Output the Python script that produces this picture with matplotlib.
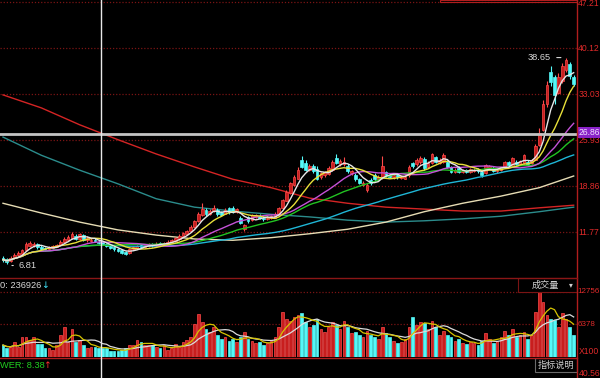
import numpy as np
import pandas as pd
import matplotlib
matplotlib.use("Agg")
import matplotlib.pyplot as plt
from matplotlib.lines import Line2D
from matplotlib.patches import Rectangle

# ---------------- data ----------------
opens = [7.8, 7.6, 7.3, 7.8, 8.2, 8.4, 9.0, 9.6, 9.7, 9.9,
         9.5, 9.3, 9.1, 9.3, 9.5, 9.8, 10.2, 10.6, 10.8, 11.2,
         10.7, 11.3, 10.5, 10.4, 10.6, 10.3, 10.2, 10.0, 9.6, 9.4,
         9.1, 9.0, 8.7, 8.5, 9.1, 9.3, 9.7, 9.4, 9.6, 9.9,
         9.7, 10.1, 9.9, 10.0, 10.2, 10.4, 10.7, 11.1, 11.4, 11.9,
         12.5, 13.4, 14.4, 15.1, 14.6, 15.0, 15.2, 14.8, 14.6, 15.4,
         15.5, 14.9, 13.9, 12.3, 14.1, 13.6, 14.1, 14.3, 14.0, 13.7,
         13.9, 14.0, 14.5, 15.4, 16.6, 17.8, 19.0, 20.0, 22.9, 22.4,
         21.4, 21.9, 21.5, 20.3, 20.5, 20.7, 21.4, 23.2, 22.2, 22.3,
         22.0, 20.8, 20.6, 19.9, 19.0, 18.2, 19.8, 20.5, 19.9, 20.1,
         21.0, 20.6, 20.2, 20.5, 20.1, 20.0, 20.5, 22.4, 22.2, 22.5,
         23.0, 21.8, 22.4, 23.3, 22.4, 22.6, 22.6, 21.8, 21.0, 21.7,
         21.0, 21.3, 21.0, 21.2, 21.4, 21.0, 20.9, 21.6, 21.7, 21.1,
         21.3, 21.8, 22.5, 22.0, 22.6, 22.3, 22.4, 22.6, 22.4, 22.9,
         25.2, 27.5, 31.5, 36.4, 35.7, 33.2, 35.0, 36.8, 37.6, 35.6]
closes = [7.5, 7.2, 7.8, 8.3, 8.5, 9.0, 10.0, 10.1, 10.0, 9.4,
          9.1, 9.1, 9.4, 9.6, 9.8, 10.3, 10.7, 11.0, 11.5, 10.7,
          11.4, 10.6, 10.9, 10.6, 10.4, 10.1, 9.9, 9.6, 9.3, 9.1,
          8.9, 8.6, 8.4, 9.1, 9.4, 9.6, 9.5, 9.7, 9.9, 9.7,
          10.0, 9.9, 10.1, 10.3, 10.5, 10.8, 11.2, 11.6, 11.9, 12.6,
          13.4, 14.5, 15.3, 14.5, 15.0, 15.5, 14.6, 14.4, 15.2, 14.8,
          14.9, 15.3, 13.2, 12.8, 13.4, 14.4, 14.4, 13.9, 13.7, 14.0,
          14.2, 14.6, 15.5, 16.7, 18.0, 19.3, 20.2, 21.4, 21.8, 21.4,
          22.0, 21.1, 20.0, 20.8, 21.0, 21.6, 22.6, 22.4, 22.7, 22.6,
          21.1, 21.1, 19.9, 19.4, 19.3, 19.0, 19.3, 19.9, 20.2, 21.9,
          20.5, 20.3, 20.5, 20.2, 20.4, 20.3, 21.8, 21.9, 22.8, 23.2,
          21.6, 22.4, 23.8, 22.6, 22.9, 23.6, 21.8, 21.0, 21.4, 21.0,
          21.3, 21.0, 21.5, 21.4, 21.1, 20.5, 22.1, 21.9, 21.2, 21.4,
          21.6, 22.5, 22.1, 23.2, 22.3, 22.7, 23.6, 22.2, 22.8, 25.0,
          27.0, 31.5, 34.5, 34.9, 32.9, 35.6, 37.4, 38.2, 35.8, 34.6]
highs = [8.0, 7.8, 8.0, 8.5, 8.8, 9.2, 10.3, 10.4, 10.3, 10.1,
         9.7, 9.5, 9.6, 9.8, 10.0, 10.6, 11.0, 11.3, 11.8, 11.4,
         11.6, 11.5, 11.1, 10.9, 10.8, 10.5, 10.4, 10.1, 9.8, 9.5,
         9.3, 9.1, 8.8, 9.3, 9.6, 9.8, 9.9, 9.9, 10.1, 10.1,
         10.2, 10.3, 10.3, 10.5, 10.7, 11.0, 11.4, 11.8, 12.1, 12.8,
         13.6, 14.8, 16.2, 15.4, 15.3, 16.0, 15.4, 15.0, 15.5, 15.6,
         15.8, 15.5, 14.3, 13.0, 14.3, 14.6, 14.6, 14.5, 14.2, 14.2,
         14.4, 14.8, 15.7, 16.9, 18.3, 19.5, 20.5, 21.8, 23.5, 22.8,
         22.3, 22.3, 22.0, 21.0, 21.2, 22.0, 22.9, 23.8, 23.0, 23.3,
         22.3, 21.4, 20.9, 20.1, 19.6, 19.3, 20.1, 20.8, 20.5, 23.5,
         21.2, 20.8, 20.7, 20.7, 20.6, 20.5, 22.1, 22.6, 23.1, 23.5,
         23.3, 22.7, 24.0, 23.5, 23.1, 23.9, 22.8, 22.0, 21.6, 21.9,
         21.5, 21.5, 21.7, 21.6, 21.6, 21.2, 22.3, 22.1, 21.9, 21.6,
         21.8, 22.7, 22.7, 23.4, 22.8, 22.9, 23.8, 22.8, 23.0, 25.3,
         27.8, 32.1, 35.0, 37.3, 36.0, 36.2, 37.8, 38.65, 38.0, 35.9]
lows = [7.2, 6.81, 7.1, 7.6, 8.0, 8.3, 8.9, 9.4, 9.5, 9.2,
        8.9, 8.9, 9.0, 9.2, 9.4, 9.7, 10.1, 10.4, 10.7, 10.5,
        10.6, 10.4, 10.3, 10.3, 10.2, 9.9, 9.7, 9.4, 9.1, 8.9,
        8.7, 8.4, 8.2, 8.4, 9.0, 9.2, 9.3, 9.3, 9.5, 9.5,
        9.6, 9.8, 9.8, 9.9, 10.1, 10.3, 10.6, 11.0, 11.3, 11.8,
        12.4, 13.3, 14.2, 14.2, 14.4, 14.8, 14.3, 14.2, 14.5, 14.6,
        14.7, 14.7, 13.0, 11.9, 13.2, 13.5, 13.9, 13.7, 13.5, 13.6,
        13.8, 13.9, 14.4, 15.3, 16.5, 17.7, 18.9, 19.9, 21.6, 21.2,
        21.2, 20.9, 19.8, 20.0, 20.3, 20.5, 21.2, 22.2, 22.0, 21.9,
        20.9, 20.5, 19.7, 19.2, 18.8, 18.0, 19.0, 19.7, 19.7, 20.0,
        20.3, 20.1, 20.0, 20.0, 20.0, 19.9, 20.3, 21.7, 22.0, 22.3,
        21.4, 21.6, 22.2, 22.4, 22.2, 22.4, 21.6, 20.8, 20.8, 20.8,
        20.8, 20.8, 20.9, 21.0, 20.9, 20.3, 20.7, 21.4, 21.0, 20.9,
        21.1, 21.6, 21.9, 21.9, 22.1, 22.1, 22.2, 22.0, 22.2, 22.8,
        25.0, 27.3, 31.0, 34.2, 31.5, 33.0, 34.8, 36.5, 35.3, 34.2]
volumes = [2350, 1760, 1960, 2940, 1960, 3920, 3920, 3330, 3920, 2550,
           2550, 1760, 1760, 1370, 2350, 4310, 5880, 2940, 5490, 2940,
           3330, 2350, 1760, 1960, 1960, 1760, 1760, 1760, 1180, 1180,
           1180, 1370, 1760, 2350, 2350, 3330, 2940, 2350, 2350, 2350,
           1960, 1760, 2350, 1370, 1760, 2550, 1960, 2940, 3330, 3920,
           6470, 8430, 6860, 5490, 4900, 5880, 4310, 3530, 3920, 3140,
           3530, 2940, 3920, 4900, 3530, 3140, 2740, 2940, 2350, 2740,
           3140, 3920, 5880, 8820, 7450, 7060, 7840, 8230, 8620, 6860,
           5880, 6270, 7450, 5490, 4900, 5880, 6860, 6270, 5490, 7060,
           5880, 4700, 4900, 4310, 3920, 5100, 4310, 3920, 3530, 5880,
           4700, 3920, 3140, 2740, 2940, 3530, 5880, 7840, 6270, 6860,
           6660, 5490, 7060, 5880, 4310, 5100, 4310, 3920, 3140, 3530,
           2740, 2550, 2940, 2740, 2350, 3140, 4700, 3530, 2740, 3140,
           3920, 5100, 4310, 5490, 3920, 4310, 4900, 3530, 4310, 8820,
           12740, 10780, 8230, 7450, 7250, 5880, 8620, 7450, 5880, 4310]

long_idx = [0, 10, 20, 30, 40, 50, 60, 70, 80, 90, 100, 110, 120, 130, 140, 149]
ma_red = [32.9, 30.9, 28.3, 26.0, 23.8, 21.8, 19.9, 18.6, 17.0, 16.2, 15.6, 15.3, 15.0, 15.0, 15.5, 15.9]
ma_teal = [26.4, 23.6, 21.3, 19.2, 16.9, 15.6, 15.0, 14.5, 14.1, 13.6, 13.3, 13.5, 13.8, 14.2, 14.9, 15.6]
ma_cream = [16.2, 14.7, 13.3, 12.1, 11.3, 10.7, 10.5, 10.9, 11.5, 12.2, 13.3, 14.9, 16.2, 17.3, 18.6, 20.4]

ma_periods = [5, 10, 20, 30, 60]
ma_colors = ["#e6e6e6", "#e8e03a", "#c552d8", "#22c322", "#1fb6d6"]

price_ticks = [47.21, 40.12, 33.03, 25.93, 18.86, 11.77]
vol_ticks = [12756, 6378]
cross_price = 26.86
high_label = 38.65
low_label = 6.81
vol_header = "0: 236926"
ind_footer = "WER: 8.38"

# ---------------- layout helpers ----------------
W, H = 600, 378
PITCH = 3.83
BLACK = "#000000"
RED = "#e02a2a"
GRID = "#7a1414"
UPC = "#c81e1e"
UPE = "#ff4a4a"
DNC = "#54f8f8"
FS = 6.7
FSR = 6.2
FONT = ["Liberation Sans", "DejaVu Sans"]
CJK = ["Noto Sans CJK SC", "DejaVu Sans"]

plt.rcParams["font.family"] = FONT

fig = plt.figure(figsize=(6.0, 3.78), dpi=100, facecolor=BLACK)


def fx(px):
    return px / W


def fy(py):
    return 1 - py / H


ax = fig.add_axes([0, fy(277), fx(577), 277 / H], facecolor=BLACK)
axv = fig.add_axes([0, fy(357), fx(577), (357 - 278) / H], facecolor=BLACK)

n = len(closes)
x = np.arange(n)
o = np.array(opens)
c = np.array(closes)
h = np.array(highs)
l = np.array(lows)
up = c >= o

for a in (ax, axv):
    a.set_xlim(-3 / PITCH, (577 - 3) / PITCH)
    for s in a.spines.values():
        s.set_visible(False)
    a.set_xticks([])
    a.set_yticks([])

ax.set_ylim(4.84, 47.52)
axv.set_ylim(0, 15503)

# grid
for t in price_ticks:
    ax.axhline(t, color=GRID, lw=0.9, ls=(0, (1, 1.5)), zorder=0)
for t in vol_ticks:
    axv.axhline(t, color=GRID, lw=0.9, ls=(0, (1, 1.5)), zorder=0)

# long moving averages
ax.plot(long_idx, ma_red, color="#d42424", lw=1.0, zorder=2)
ax.plot(long_idx, ma_teal, color="#2b8c8c", lw=1.0, zorder=2)
ax.plot(long_idx, ma_cream, color="#e6dcb4", lw=1.0, zorder=2)

# candles
ax.vlines(x[up], l[up], h[up], color=UPE, lw=0.8, zorder=3)
ax.vlines(x[~up], l[~up], h[~up], color=DNC, lw=0.8, zorder=3)
bh = np.maximum(np.abs(c - o), 0.08)
ax.bar(x[up], bh[up], bottom=np.minimum(o, c)[up], width=0.7,
       color=UPC, edgecolor=UPE, linewidth=0.5, zorder=4)
ax.bar(x[~up], bh[~up], bottom=np.minimum(o, c)[~up], width=0.7,
       color=DNC, edgecolor=DNC, linewidth=0.5, zorder=4)

# short moving averages from closes
cs = pd.Series(closes)
for p, col in zip(ma_periods[::-1], ma_colors[::-1]):
    ax.plot(x, cs.rolling(p, min_periods=1).mean(), color=col, lw=1.0, zorder=5)

# crosshair horizontal
ax.axhline(cross_price, color="#c4c4c4", lw=2.0, zorder=6)

# high / low labels
ax.annotate(f"{high_label:.2f}", xy=(147 - 0.6, high_label), xytext=(-9, 0),
            textcoords="offset points", ha="right", va="center", color="#d8d8d8",
            fontsize=FS, arrowprops=dict(arrowstyle="-", color="#d8d8d8", lw=0.8))
ax.annotate(f"{low_label:.2f}", xy=(1.6, low_label - 0.2), xytext=(7, 0),
            textcoords="offset points", ha="left", va="center", color="#d8d8d8",
            fontsize=FS, arrowprops=dict(arrowstyle="-", color="#d8d8d8", lw=0.8))

# volume bars
v = np.array(volumes)
axv.bar(x[up], v[up], width=0.7, color=UPC, edgecolor=UPE, linewidth=0.5, zorder=3)
axv.bar(x[~up], v[~up], width=0.7, color=DNC, edgecolor=DNC, linewidth=0.5, zorder=3)
vs = pd.Series(volumes)
axv.plot(x, vs.rolling(10, min_periods=1).mean(), color="#dcdcdc", lw=0.9, zorder=4)
axv.plot(x, vs.rolling(5, min_periods=1).mean(), color="#d6c400", lw=0.9, zorder=5)

# right axis labels
ytr = ax.get_yaxis_transform()
for t in price_ticks:
    yy = t - 0.25 if t == max(price_ticks) else t
    ax.text(1.002, yy, f"{t:.2f}", transform=ytr, color=RED,
            fontsize=FSR, va="center", ha="left", clip_on=False)
ax.text(1.003, cross_price + 0.25, f"{cross_price:.2f}", transform=ytr,
        color="#f0e0ff", fontsize=FSR, va="center", ha="left", clip_on=False, zorder=10,
        bbox=dict(boxstyle="square,pad=0.12", fc="#8a22c8", ec="none"))
for t in vol_ticks:
    axv.text(1.001, t, f"{t}", transform=axv.get_yaxis_transform(), color=RED,
             fontsize=5.8, va="center", ha="left", clip_on=False)
fig.text(fx(578.5), fy(352), "X100", color=RED, fontsize=FSR, va="center", ha="left")
fig.text(fx(578.5), fy(374), "40.56", color=RED, fontsize=FSR, va="center", ha="left")

# frame lines
fig.add_artist(Line2D([fx(577), fx(577)], [0, 1], color="#b01e1e", lw=1.0))
fig.add_artist(Line2D([0, fx(577)], [fy(278), fy(278)], color="#8a1616", lw=1.0))
fig.add_artist(Line2D([0, fx(577)], [fy(357.5), fy(357.5)], color="#b01e1e", lw=1.0))
fig.add_artist(Rectangle((fx(440), fy(2)), fx(577 - 440), 2 / H, fill=False,
                         ec="#b01e1e", lw=0.8))

# vertical crosshair
fig.add_artist(Line2D([fx(101), fx(101)], [0, 1], color="#e8e8e8", lw=1.0, zorder=20))

# header/footer texts
fig.text(fx(0), fy(285), vol_header, color="#d8d8d8", fontsize=FS, va="center", ha="left")
fig.text(fx(41.5), fy(285), "↓", color="#40e8ff", fontsize=FS, va="center", ha="left",
         family=["DejaVu Sans"])
fig.text(fx(0), fy(365), ind_footer, color="#20d020", fontsize=FS, va="center", ha="left")
fig.text(fx(43.5), fy(365), "↑", color="#ff3030", fontsize=FS, va="center", ha="left",
         family=["DejaVu Sans"])

fig.add_artist(Rectangle((fx(518), fy(292)), fx(59), 14 / H, fc=BLACK, ec="#7a1414", lw=0.8))
fig.text(fx(545), fy(285), "成交量", color="#d0d0d0", fontsize=6.6, va="center", ha="center",
         family=CJK)
fig.text(fx(571), fy(285), "▾", color="#d0d0d0", fontsize=5.5, va="center", ha="center",
         family=["DejaVu Sans"])
fig.add_artist(Rectangle((fx(535), fy(372)), fx(42), 14 / H, fc=BLACK, ec="#6a6a6a", lw=0.8))
fig.text(fx(556), fy(365), "指标说明", color="#d0d0d0", fontsize=6.6, va="center", ha="center",
         family=CJK)

fig.savefig("out.png", dpi=100, facecolor=BLACK)
